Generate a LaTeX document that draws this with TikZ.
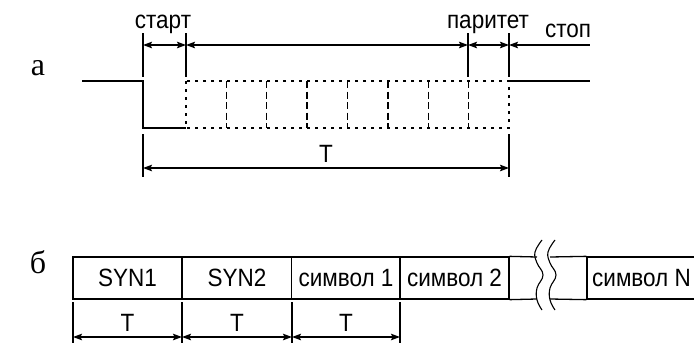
\documentclass[tikz,border=0pt]{standalone}
\usepackage{fontspec}
\setmainfont{Liberation Serif}
\setsansfont[FakeStretch=0.9]{Liberation Sans}
\usetikzlibrary{arrows.meta, positioning, calc}

\begin{document}
\begin{tikzpicture}[
    x=1pt, y=-1pt,
    font=\sffamily\fontsize{25}{25}\selectfont,
    >={Stealth[length=9pt, width=6.5pt, inset=1.5pt]},
    wire/.style={line width=1.3pt},
    dotwire/.style={line width=1.3pt, dash pattern=on 3pt off 5pt},
    bitline/.style={line width=1.3pt, dash pattern=on 7pt off 3.5pt},
    tick/.style={line width=1.1pt},
    dim/.style={<->, line width=1.1pt},
    lbl/.style={anchor=base, inner sep=0pt},
    cell/.style={draw, line width=1.3pt, minimum width=109pt, minimum height=42pt, inner sep=0pt},
    part/.style={font=\rmfamily\fontsize{32}{32}\selectfont, inner sep=0pt}
]

\useasboundingbox (0,0) rectangle (694,343);

% PART A - WAVEFORM
\node[part] (pa) at (38,68) {а};
\draw[wire] (82,81) -- (143,81) -- (143,128) -- (186,128);
\draw[dotwire] (186,81) rectangle (509,128);
\foreach \x in {226.4, 266.8, 307.1, 347.5, 387.9, 428.3, 468.6}
    \draw[bitline] (\x,81) -- (\x,128);
\draw[wire] (509,81) -- (590,81);

% PART A - UPPER DIMENSIONS
\foreach \n/\x in {s/143, d/186, p/468, e/509}{
    \coordinate (\n-top) at (\x,33);
    \coordinate (\n-bot) at (\x,77);
    \coordinate (\n-dim) at (\x,45);
    \draw[tick] (\n-top) -- (\n-bot);
}
\coordinate (stop-end) at (590,45);
\draw[dim] (s-dim) -- (d-dim);
\draw[dim] (d-dim) -- (p-dim);
\draw[dim] (p-dim) -- (e-dim);
\draw[tick, <-] (e-dim) -- (stop-end);

\node[lbl] (start) at (163,28) {старт};
\node[lbl] (parity) at (488,28) {паритет};
\node[lbl] (stop) at (568,37) {стоп};

% PART A - FRAME LENGTH
\foreach \n/\x in {fs/143, fe/509}{
    \coordinate (\n-top) at (\x,134);
    \coordinate (\n-bot) at (\x,177);
    \coordinate (\n-dim) at (\x,168);
    \draw[tick] (\n-top) -- (\n-bot);
}
\draw[dim] (fs-dim) -- (fe-dim);
\node[lbl] (frame) at (326,162) {T};

% PART B - BLOCK
\node[part] (pb) at (38,262) {б};
\node[cell] (syn1) at (127.5,278) {SYN1};
\node[cell] (syn2) at (237,278) {SYN2};
\node[cell] (sym1) at (346,278) {символ 1};
\node[cell] (sym2) at (454.5,278) {символ 2};
\node[cell] (symn) at (641.5,278) {символ N};

% PART B - BREAK
\draw[wire] (sym2.north east) -- (537,257);
\draw[wire] (sym2.south east) -- (537,299);
\draw[wire] (550,257) -- (symn.north west);
\draw[wire] (550,299) -- (symn.south west);
\foreach \d in {0, 13}
    \draw[line width=1.1pt, xshift=\d pt] plot[smooth, tension=0.7] coordinates
        {(542,240) (535,252) (537,263) (543,275) (537,288) (537,300) (542,310)};

% PART B - DIMENSIONS
\foreach \n/\x in {b0/73, b1/182, b2/292, b3/400}{
    \coordinate (\n-top) at (\x,302);
    \coordinate (\n-bot) at (\x,343);
    \coordinate (\n-dim) at (\x,337);
    \draw[tick] (\n-top) -- (\n-bot);
}
\foreach \a/\b in {b0/b1, b1/b2, b2/b3}{
    \draw[dim] (\a-dim) -- (\b-dim);
    \node[lbl] at ($(\a-dim)!0.5!(\b-dim) + (0,-6)$) {T};
}

\end{tikzpicture}
\end{document}
